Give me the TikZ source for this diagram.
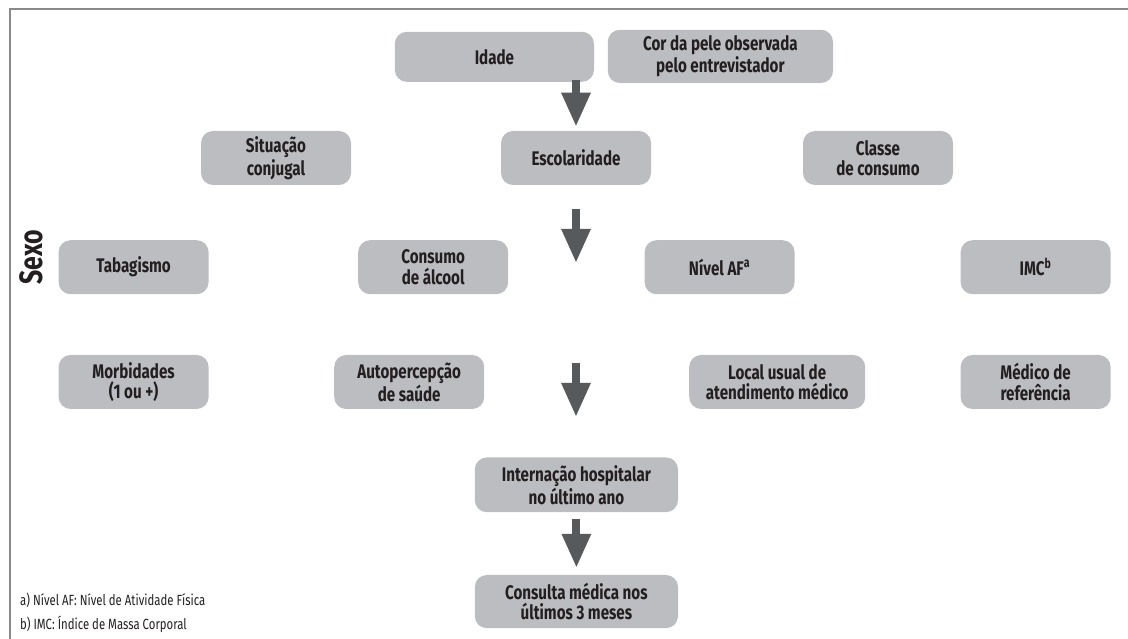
\documentclass[tikz,border=0pt]{standalone}
\usepackage{fontspec}
\setmainfont{Fira Sans}[FakeStretch=0.77]
\usepackage{tikz}
\usetikzlibrary{arrows.meta}

\definecolor{boxgray}{HTML}{BCBDC0}
\definecolor{arrowgray}{HTML}{58595B}
\definecolor{textblack}{HTML}{231F20}
\definecolor{framegray}{HTML}{8A8A8A}

\begin{document}
\begin{tikzpicture}[
    box/.style={rounded corners=0.3cm, fill=boxgray, text=textblack, align=center,
        font=\bfseries\fontsize{14}{14.3}\selectfont, minimum width=3.75cm, minimum height=1.35cm, inner sep=0pt},
    flow/.style={-{Triangle[length=0.85cm, width=0.68cm]}, line width=0.2cm, draw=arrowgray, fill=arrowgray}
]
            \useasboundingbox (0, 0) rectangle (28.2, -15.975);

            % Frame
            \draw[framegray, line width=1pt] (28.2, -0.225) -- (0.25, -0.225) -- (0.25, -15.975);

            % Nodes
            \node[box, minimum width=4.98cm, minimum height=1.25cm] (idade) at (12.36, -1.42) {Idade};
            \node[box, minimum width=5.63cm, minimum height=1.33cm] (cor) at (18.01, -1.41) {Cor da pele observada\\pelo entrevistador};

            \node[box] (situacao) at (6.9, -3.95) {Situação\\conjugal};
            \node[box] (escolaridade) at (14.4, -3.95) {Escolaridade};
            \node[box] (classe) at (21.95, -3.95) {Classe\\de consumo};

            \node[box] (tabagismo) at (3.34, -6.68) {Tabagismo};
            \node[box] (alcool) at (10.83, -6.68) {Consumo\\de álcool};
            \node[box] (nivelaf) at (17.99, -6.68) {Nível AF\textsuperscript{a}};
            \node[box] (imc) at (25.89, -6.68) {IMC\textsuperscript{b}};

            \node[box] (morbidades) at (3.34, -9.55) {Morbidades\\(1 ou +)};
            \node[box] (autopercepcao) at (10.23, -9.55) {Autopercepção\\de saúde};
            \node[box, minimum width=4.4cm] (local) at (19.43, -9.55) {Local usual de\\atendimento médico};
            \node[box] (medico) at (25.89, -9.55) {Médico de\\referência};

            \node[box, minimum width=5.08cm, minimum height=1.37cm] (internacao) at (14.41, -12.12) {Internação hospitalar\\no último ano};
            \node[box, minimum width=5.08cm, minimum height=1.33cm] (consulta) at (14.41, -15.04) {Consulta médica nos\\últimos 3 meses};

            % Additional labels
            \node[rotate=90, text=textblack, font=\bfseries\fontsize{23}{26}\selectfont] (sexo) at (0.78, -6.43) {Sexo};
            \node[anchor=west, text=textblack, font=\fontsize{10.5}{12}\selectfont] (notaa) at (0.38, -15.0) {a) Nível AF: Nível de Atividade Física};
            \node[anchor=west, text=textblack, font=\fontsize{10.5}{12}\selectfont] (notab) at (0.38, -15.6) {b) IMC: Índice de Massa Corporal};

            % Arrow ends
            \coordinate (a1) at (14.4, -2.0);
            \coordinate (a2) at (14.4, -6.575);
            \coordinate (a3s) at (14.4, -9.075);
            \coordinate (a3e) at (14.4, -10.425);

            % Arrows
            \draw[flow, shorten >=0.1cm] (a1) -- (escolaridade.north);
            \draw[flow, shorten <=0.6cm] (escolaridade.south) -- (a2);
            \draw[flow] (a3s) -- (a3e);
            \draw[flow, shorten <=0.17cm, shorten >=0.17cm] (internacao.south) -- (consulta.north);
        \end{tikzpicture}
\end{document}
